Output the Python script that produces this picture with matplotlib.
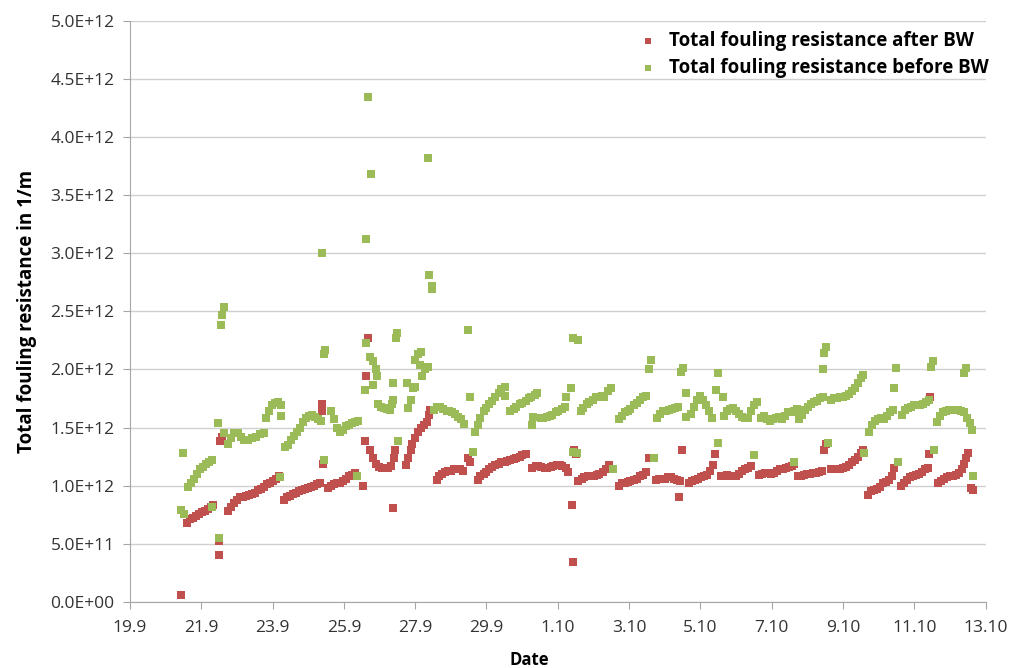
import matplotlib
matplotlib.use("Agg")
import matplotlib.pyplot as plt
from matplotlib.ticker import FuncFormatter, MultipleLocator
import numpy as np
import pandas as pd

start = pd.Timestamp("2013-09-19")

# days since 19.9, resistance in 1e12 1/m
after_days = [
    1.43,
    1.60, 1.69, 1.77, 1.85, 1.94, 2.02, 2.11, 2.19, 2.28, 2.33,
    2.50, 2.50, 2.53, 2.58,
    2.75, 2.84, 2.92, 3.01, 3.09, 3.17, 3.26, 3.34, 3.43, 3.51, 3.60, 3.68, 3.76, 3.85, 3.93, 4.02, 4.10, 4.19,
    4.33, 4.41, 4.49, 4.58, 4.66, 4.75, 4.83, 4.92, 5.00, 5.08, 5.17, 5.25, 5.34,
    5.39, 5.39, 5.42,
    5.56, 5.65, 5.73, 5.81, 5.90, 5.98, 6.07, 6.15, 6.24, 6.32,
    6.54, 6.69, 6.63, 6.60,
    6.74, 6.83, 6.91, 7.00, 7.08, 7.16, 7.25, 7.33, 7.42, 7.44,
    7.39,
    7.75, 7.81, 7.87, 7.92, 8.01, 8.09, 8.17, 8.26, 8.34, 8.40, 8.43,
    8.60, 8.68, 8.76, 8.85, 8.93, 9.02, 9.10, 9.19, 9.27, 9.35,
    9.49, 9.55,
    9.75, 9.83, 9.92, 10.00, 10.08, 10.17, 10.25, 10.34, 10.42, 10.51, 10.59, 10.67, 10.76, 10.84, 10.93, 11.01, 11.10,
    11.29, 11.38, 11.46, 11.54, 11.63, 11.71, 11.80, 11.88, 11.97, 12.05, 12.13, 12.22, 12.30,
    12.39, 12.44, 12.47, 12.50,
    12.58, 12.67, 12.75, 12.84, 12.92, 13.01, 13.09, 13.17, 13.26, 13.34, 13.43,
    13.71, 13.79, 13.88, 13.96, 14.04, 14.13, 14.21, 14.30, 14.38, 14.47, 14.55,
    14.75, 14.83, 14.92, 15.00, 15.08, 15.17, 15.25, 15.34, 15.42,
    15.48, 15.39,
    15.67, 15.76, 15.84, 15.93, 16.01, 16.10, 16.18, 16.26, 16.35, 16.40,
    16.57, 16.66, 16.74, 16.83, 16.91, 17.00, 17.08, 17.16, 17.25, 17.33, 17.42,
    17.64, 17.72, 17.81, 17.89, 17.98, 18.06, 18.15, 18.23, 18.31, 18.40, 18.48, 18.57, 18.62,
    18.74, 18.82, 18.90, 18.99, 19.07, 19.16, 19.24, 19.33, 19.41,
    19.47, 19.52,
    19.66, 19.75, 19.83, 19.92, 20.00, 20.08, 20.17, 20.25, 20.34, 20.42, 20.51, 20.56,
    20.70, 20.79, 20.87, 20.96, 21.04, 21.12, 21.21, 21.29, 21.38, 21.43,
    21.63, 21.71, 21.80, 21.88, 21.97, 22.05, 22.13, 22.22, 22.30, 22.39, 22.42, 22.44,
    22.67, 22.75, 22.84, 22.92, 23.01, 23.09, 23.17, 23.26, 23.34, 23.40, 23.46, 23.51,
    23.60, 23.65,
]
after_vals = [
    0.06,
    0.68, 0.71, 0.72, 0.74, 0.76, 0.77, 0.78, 0.80, 0.82, 0.83,
    0.40, 0.52, 1.38, 1.42,
    0.78, 0.82, 0.85, 0.88, 0.90, 0.90, 0.91, 0.92, 0.93, 0.94, 0.96, 0.97, 0.99, 1.01, 1.02, 1.04, 1.06, 1.08,
    0.88, 0.90, 0.91, 0.93, 0.94, 0.95, 0.96, 0.97, 0.98, 0.99, 1.00, 1.01, 1.02,
    1.70, 1.64, 1.19,
    0.98, 1.00, 1.01, 1.02, 1.02, 1.04, 1.06, 1.08, 1.09, 1.11,
    1.00, 2.27, 1.94, 1.38,
    1.31, 1.24, 1.19, 1.16, 1.15, 1.15, 1.15, 1.17, 1.24, 1.31,
    0.81,
    1.18, 1.24, 1.31, 1.36, 1.41, 1.46, 1.50, 1.52, 1.55, 1.61, 1.65,
    1.05, 1.08, 1.10, 1.12, 1.13, 1.13, 1.14, 1.14, 1.14, 1.13,
    1.24, 1.20,
    1.05, 1.08, 1.10, 1.12, 1.14, 1.16, 1.18, 1.19, 1.20, 1.20, 1.21, 1.22, 1.23, 1.24, 1.25, 1.26, 1.27,
    1.15, 1.17, 1.17, 1.16, 1.15, 1.15, 1.16, 1.17, 1.18, 1.18, 1.17, 1.15, 1.12,
    0.83, 0.34, 1.31, 1.27,
    1.04, 1.06, 1.07, 1.08, 1.08, 1.08, 1.09, 1.10, 1.12, 1.14, 1.18,
    1.00, 1.02, 1.02, 1.03, 1.04, 1.05, 1.06, 1.08, 1.09, 1.12, 1.24,
    1.05, 1.06, 1.06, 1.06, 1.07, 1.07, 1.06, 1.05, 1.04,
    1.31, 0.90,
    1.02, 1.04, 1.05, 1.06, 1.07, 1.08, 1.09, 1.13, 1.18, 1.27,
    1.08, 1.08, 1.09, 1.08, 1.08, 1.08, 1.10, 1.13, 1.14, 1.15, 1.17,
    1.09, 1.10, 1.11, 1.11, 1.10, 1.11, 1.13, 1.14, 1.14, 1.15, 1.16, 1.17, 1.19,
    1.08, 1.08, 1.09, 1.10, 1.10, 1.11, 1.11, 1.12, 1.13,
    1.31, 1.36,
    1.14, 1.14, 1.14, 1.14, 1.15, 1.16, 1.18, 1.20, 1.22, 1.25, 1.28, 1.31,
    0.92, 0.95, 0.96, 0.97, 0.99, 1.02, 1.03, 1.05, 1.08, 1.15,
    1.00, 1.02, 1.05, 1.07, 1.08, 1.09, 1.10, 1.12, 1.14, 1.15, 1.27, 1.76,
    1.02, 1.04, 1.06, 1.07, 1.08, 1.08, 1.09, 1.11, 1.14, 1.19, 1.24, 1.28,
    0.98, 0.96,
]

before_days = [
    1.43, 1.52, 1.49,
    1.63, 1.71, 1.80, 1.88, 1.97, 2.05, 2.13, 2.22, 2.30,
    2.30, 2.56, 2.58, 2.64, 2.47, 2.50, 2.64,
    2.75, 2.84, 2.92, 3.03, 3.12, 3.20, 3.31, 3.43, 3.54, 3.65, 3.76,
    3.82, 3.90, 3.99, 4.07, 4.16, 4.24, 4.24,
    4.21,
    4.35, 4.44, 4.52, 4.61, 4.69, 4.78, 4.86, 4.94, 5.03, 5.11, 5.20, 5.28, 5.37,
    5.45, 5.48, 5.39, 5.45,
    5.65, 5.73, 5.81, 5.90, 5.98, 6.07, 6.15, 6.24, 6.32, 6.40,
    6.38, 6.63, 6.69, 6.77,
    6.63, 6.74, 6.83, 6.91, 6.94, 6.83, 6.60,
    6.97, 7.05, 7.13, 7.22, 7.30, 7.36, 7.39,
    7.39, 7.47, 7.50, 7.53,
    7.78, 7.87, 7.81, 7.95, 8.01, 8.09, 8.17, 8.29, 8.20, 8.01, 8.37, 8.15,
    8.37, 8.40, 8.46, 8.48,
    8.54, 8.62, 8.71, 8.79, 8.88, 8.96, 9.04, 9.13, 9.21, 9.30, 9.38,
    9.49, 9.55, 9.69, 9.63,
    9.75, 9.83, 9.92, 10.00, 10.08, 10.17, 10.25, 10.34, 10.42, 10.51, 10.53,
    10.67, 10.76, 10.84, 10.93, 11.01, 11.10, 11.18, 11.26, 11.35, 11.43,
    11.29, 11.32,
    11.52, 11.60, 11.69, 11.77, 11.85, 11.94, 12.02, 12.11, 12.19,
    12.22, 12.36, 12.42, 12.56, 12.44, 12.53,
    12.64, 12.72, 12.81, 12.89, 12.98, 13.06, 13.15, 13.23, 13.31, 13.40, 13.48,
    13.54,
    13.71, 13.79, 13.88, 13.96, 14.04, 14.13, 14.21, 14.30, 14.38, 14.47,
    14.61, 14.55, 14.69,
    14.78, 14.86, 14.94, 15.03, 15.11, 15.20, 15.28, 15.37,
    15.51, 15.45, 15.59, 15.59,
    15.73, 15.81, 15.90, 15.98, 16.07, 16.15, 16.24, 16.32,
    16.49, 16.43, 16.63, 16.49,
    16.66, 16.74, 16.83, 16.91, 17.00, 17.08, 17.16, 17.25, 17.33, 17.42, 17.50, 17.58,
    17.50,
    17.70, 17.78, 17.87, 17.95, 18.03, 18.12, 18.20, 18.29, 18.37, 18.46, 18.54, 18.62, 18.71,
    18.62,
    18.76, 18.85, 18.93, 19.02, 19.10, 19.19, 19.27, 19.35, 19.44,
    19.52, 19.47, 19.44, 19.58,
    19.66, 19.75, 19.83, 19.92, 20.00, 20.08, 20.17, 20.25, 20.34, 20.42, 20.51, 20.56,
    20.59,
    20.73, 20.81, 20.90, 20.98, 21.07, 21.15, 21.24, 21.32, 21.40,
    21.49, 21.43, 21.54,
    21.66, 21.74, 21.83, 21.91, 22.00, 22.08, 22.16, 22.25, 22.33, 22.42,
    22.53, 22.47, 22.56,
    22.64, 22.72, 22.81, 22.89, 22.98, 23.06, 23.15, 23.23, 23.31, 23.40, 23.48, 23.57, 23.62,
    23.46, 23.40, 23.65,
]
before_vals = [
    0.79, 0.76, 1.28,
    0.99, 1.02, 1.06, 1.10, 1.14, 1.16, 1.19, 1.20, 1.22,
    0.82, 2.38, 2.47, 2.54, 1.54, 0.55, 1.45,
    1.36, 1.41, 1.45, 1.45, 1.42, 1.39, 1.39, 1.41, 1.42, 1.44, 1.45,
    1.58, 1.64, 1.69, 1.71, 1.72, 1.69, 1.60,
    1.07,
    1.33, 1.35, 1.39, 1.43, 1.46, 1.50, 1.55, 1.58, 1.60, 1.61, 1.59, 1.57, 1.56,
    2.13, 2.17, 3.00, 1.22,
    1.64, 1.57, 1.50, 1.46, 1.48, 1.51, 1.52, 1.54, 1.55, 1.56,
    1.08, 3.12, 4.34, 3.68,
    2.23, 2.11, 2.07, 2.00, 1.94, 1.87, 1.82,
    1.70, 1.68, 1.67, 1.66, 1.65, 1.70, 1.74,
    1.88, 2.27, 2.31, 1.38,
    1.88, 1.74, 1.67, 1.84, 2.08, 2.13, 2.15, 2.00, 1.94, 1.85, 2.02, 2.04,
    3.82, 2.81, 2.72, 2.69,
    1.65, 1.68, 1.68, 1.66, 1.64, 1.64, 1.63, 1.62, 1.59, 1.57, 1.53,
    2.34, 1.76, 1.46, 1.29,
    1.52, 1.58, 1.64, 1.67, 1.70, 1.73, 1.76, 1.80, 1.83, 1.85, 1.77,
    1.64, 1.66, 1.68, 1.70, 1.71, 1.73, 1.75, 1.76, 1.78, 1.80,
    1.52, 1.59,
    1.58, 1.58, 1.59, 1.60, 1.61, 1.63, 1.64, 1.66, 1.68,
    1.76, 1.84, 2.27, 2.25, 1.29, 1.28,
    1.64, 1.67, 1.70, 1.72, 1.74, 1.76, 1.76, 1.77, 1.76, 1.81, 1.84,
    1.14,
    1.57, 1.60, 1.63, 1.64, 1.66, 1.69, 1.71, 1.74, 1.76, 1.77,
    2.08, 2.00, 1.24,
    1.58, 1.62, 1.64, 1.64, 1.65, 1.66, 1.67, 1.68,
    2.01, 1.98, 1.80, 1.59,
    1.62, 1.68, 1.74, 1.77, 1.74, 1.69, 1.64, 1.58,
    1.97, 1.82, 1.76, 1.37,
    1.60, 1.64, 1.66, 1.67, 1.64, 1.62, 1.59, 1.58, 1.58, 1.64, 1.69, 1.72,
    1.26,
    1.58, 1.60, 1.57, 1.56, 1.57, 1.58, 1.59, 1.57, 1.60, 1.63, 1.63, 1.64, 1.66,
    1.20,
    1.57, 1.61, 1.65, 1.68, 1.70, 1.72, 1.73, 1.75, 1.76,
    2.19, 2.14, 2.00, 1.37,
    1.74, 1.75, 1.75, 1.76, 1.76, 1.77, 1.79, 1.81, 1.84, 1.88, 1.93, 1.95,
    1.28,
    1.46, 1.52, 1.56, 1.57, 1.58, 1.57, 1.60, 1.63, 1.65,
    2.01, 1.84, 1.20,
    1.61, 1.65, 1.67, 1.68, 1.69, 1.69, 1.69, 1.70, 1.72, 1.74,
    2.07, 2.02, 1.31,
    1.55, 1.60, 1.63, 1.64, 1.65, 1.65, 1.65, 1.65, 1.64, 1.63, 1.58, 1.54, 1.48,
    2.01, 1.97, 1.08,
]

tick_dates = pd.date_range("2013-09-19", "2013-10-13", freq="2D")

red = "#C0504D"
green = "#9BBB59"

plt.rcParams["font.family"] = ["Open Sans", "DejaVu Sans"]

fig = plt.figure(figsize=(10.15, 6.68), dpi=100)
ax = fig.add_axes([0.128, 0.099, 0.843, 0.870])

t_after = start + pd.to_timedelta(after_days, unit="D")
t_before = start + pd.to_timedelta(before_days, unit="D")

ax.scatter(t_after, np.array(after_vals) * 1e12, marker="s", s=38, color=red,
           linewidths=0, label="Total fouling resistance after BW", zorder=3)
ax.scatter(t_before, np.array(before_vals) * 1e12, marker="s", s=38, color=green,
           linewidths=0, label="Total fouling resistance before BW", zorder=3)

ax.set_xlim(tick_dates[0], tick_dates[-1])
ax.set_ylim(0, 5e12)
ax.yaxis.set_major_locator(MultipleLocator(0.5e12))
ax.yaxis.set_major_formatter(FuncFormatter(lambda v, p: f"{v:.1E}"))
ax.set_xticks(tick_dates)
ax.set_xticklabels([f"{d.day}.{d.month}" for d in tick_dates])

ax.grid(axis="y", color="#d0d0d0", lw=1)
ax.set_axisbelow(True)
for s in ["top", "right"]:
    ax.spines[s].set_visible(False)
for s in ["left", "bottom"]:
    ax.spines[s].set_color("#a6a6a6")
ax.tick_params(axis="both", colors="#a6a6a6", labelcolor="#333333",
               labelsize=12.5, length=5)
ax.tick_params(axis="x", pad=8)
ax.tick_params(axis="y", pad=6)

ax.set_xlabel("Date", fontsize=12, fontweight="bold", labelpad=4)
ax.xaxis.set_label_coords(0.467, -0.085)
ax.set_ylabel("Total fouling resistance in 1/m", fontsize=13.5, fontweight="bold", labelpad=10)

leg = ax.legend(loc="upper right", bbox_to_anchor=(1.012, 0.995), frameon=False,
                prop={"weight": "bold", "size": 13.5}, handletextpad=0.1,
                labelspacing=0.35, markerscale=0.6, borderaxespad=0)

fig.savefig("out.png", dpi=100)
